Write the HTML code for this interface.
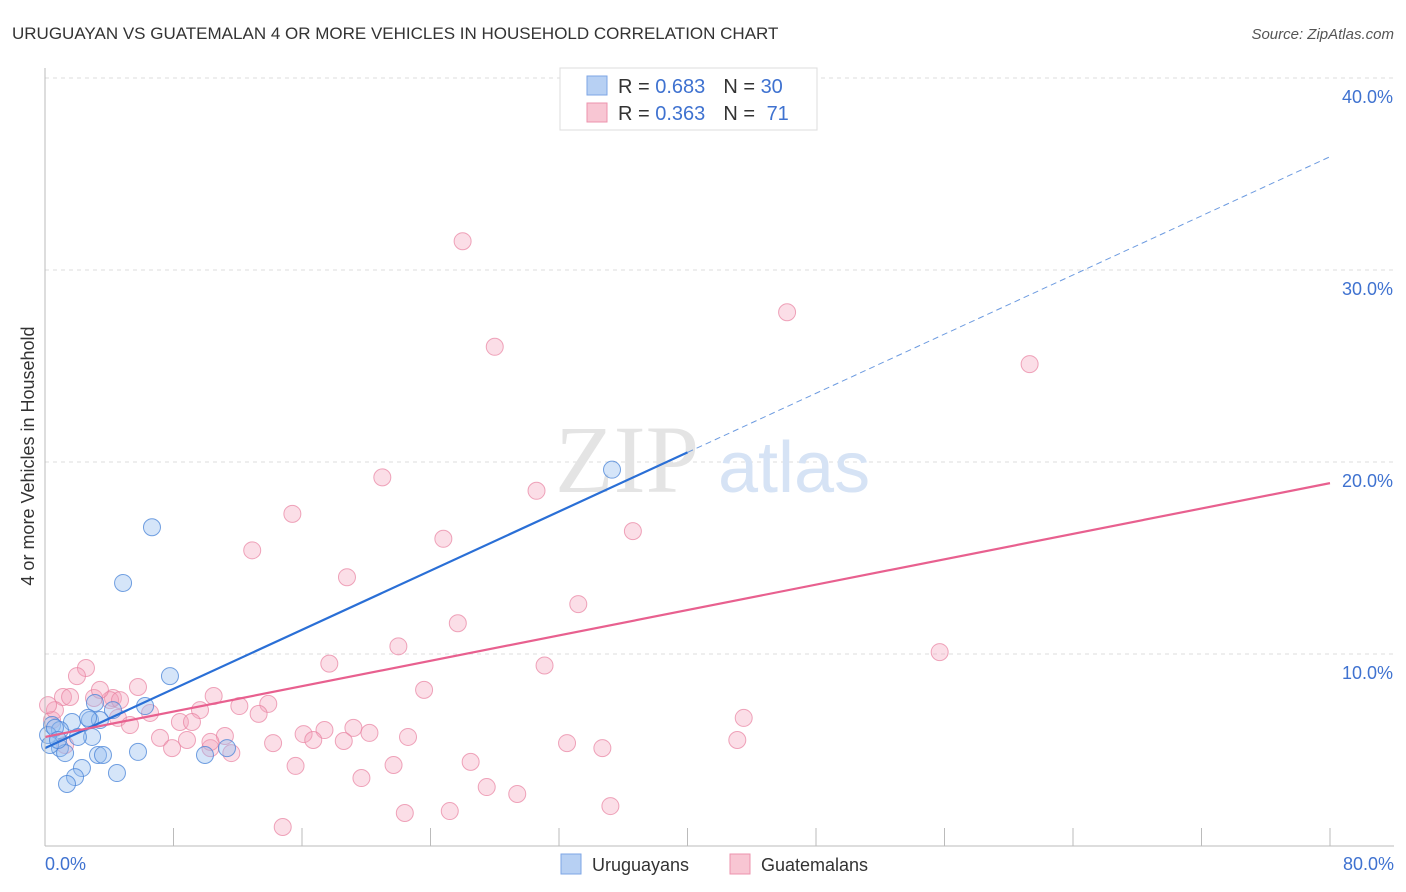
<!DOCTYPE html>
<html><head><meta charset="utf-8"><style>
body{margin:0;background:#fff;font-family:"Liberation Sans",sans-serif}
svg{display:block}
</style></head><body>
<svg id="c" width="1406" height="892" xmlns="http://www.w3.org/2000/svg">
<text x="12" y="39" font-size="17" fill="#333">URUGUAYAN VS GUATEMALAN 4 OR MORE VEHICLES IN HOUSEHOLD CORRELATION CHART</text>
<text x="1394" y="39" font-size="15" fill="#555" font-style="italic" text-anchor="end">Source: ZipAtlas.com</text>
<text x="0" y="0" transform="translate(34,456) rotate(-90)" font-size="18" fill="#333" text-anchor="middle">4 or more Vehicles in Household</text>
<g id="grid"></g>
<text x="555" y="492" font-size="96" font-family="Liberation Serif,serif" fill="#e4e4e4">ZIP</text>
<text x="718" y="492" font-size="72" fill="#d6e3f5">atlas</text>
<g id="pts"></g>
<g id="lines"></g>
<line x1="45" y1="68" x2="45" y2="846" stroke="#bbb"/>
<line x1="45" y1="846" x2="1394" y2="846" stroke="#bbb"/>
<text x="45" y="870" font-size="18" fill="#3f72d0">0.0%</text>
<text x="1394" y="870" font-size="18" fill="#3f72d0" text-anchor="end">80.0%</text>
<g>
<rect x="560" y="68" width="257" height="62" fill="#fff" stroke="#ddd"/>
<rect x="587" y="76" width="20" height="19" fill="#b7d0f3" stroke="#7ea6e6"/>
<rect x="587" y="103" width="20" height="19" fill="#f8c6d3" stroke="#ec93ae"/>
<text x="618" y="93" font-size="20" fill="#333">R = <tspan fill="#3f72d0">0.683</tspan><tspan dx="18">N = </tspan><tspan fill="#3f72d0">30</tspan></text>
<text x="618" y="120" font-size="20" fill="#333">R = <tspan fill="#3f72d0">0.363</tspan><tspan dx="18">N = </tspan><tspan fill="#3f72d0" dx="6">71</tspan></text>
</g>
<g>
<rect x="561" y="854" width="20" height="20" fill="#b7d0f3" stroke="#7ea6e6"/>
<text x="592" y="871" font-size="18" fill="#333">Uruguayans</text>
<rect x="730" y="854" width="20" height="20" fill="#f8c6d3" stroke="#ec93ae"/>
<text x="761" y="871" font-size="18" fill="#333">Guatemalans</text>
</g>
</svg>
<script>
const yTicks=[10,20,30,40];
const yTickLabels=["10.0%","20.0%","30.0%","40.0%"];
const xTicks=[0,8,16,24,32,40,48,56,64,72,80];
const blueX=[35.3,6.66,4.86,7.78,6.23,3.11,4.23,2.80,3.42,1.68,0.44,0.93,0.19,2.93,2.05,0.93,1.25,3.30,3.61,5.79,9.96,11.33,2.30,1.87,4.48,1.37,0.62,0.31,2.68,0.81];
const blueY=[19.6,16.6,13.7,8.85,7.29,7.45,7.08,6.56,6.56,6.46,6.30,6.04,5.78,5.68,5.68,5.10,4.84,4.74,4.74,4.90,4.74,5.10,4.06,3.59,3.80,3.23,6.15,5.26,6.67,5.52];
const pinkX=[26.0,28.0,46.2,61.3,21.0,30.6,15.4,36.6,24.8,12.9,18.8,33.2,25.7,22.0,55.7,17.7,31.1,2.55,1.99,23.6,5.79,1.12,1.56,4.23,3.05,10.5,13.9,12.1,6.54,9.65,43.5,13.3,4.54,8.40,5.29,9.15,17.4,19.2,20.2,16.1,11.2,7.16,22.6,8.84,16.7,18.6,14.2,32.5,34.7,43.1,10.3,11.6,7.91,26.5,15.6,21.7,19.7,27.5,29.4,35.2,22.4,25.2,14.8,0.44,0.62,0.19,4.05,1.25,10.3,4.67,3.42];
const pinkY=[31.5,26.0,27.8,25.1,19.2,18.5,17.3,16.4,16.0,15.4,14.0,12.6,11.6,10.4,10.1,9.5,9.4,9.27,8.85,8.13,8.28,7.76,7.76,7.71,7.71,7.81,7.40,7.29,6.93,7.08,6.67,6.88,6.67,6.46,6.30,6.46,6.04,6.15,5.89,5.83,5.73,5.63,5.68,5.52,5.52,5.47,5.36,5.36,5.10,5.52,5.10,4.84,5.10,4.38,4.17,4.22,3.54,3.07,2.71,2.08,1.72,1.82,0.99,6.56,7.08,7.34,7.60,5.26,5.42,7.60,8.13];
const blueTrend=[[0,5.1],[40,20.5],[80,35.9]];
const pinkTrend=[[0,5.68],[80,18.9]];
const X=v=>45+v/80*1285, Y=v=>846-v*19.2;
const NS="http://www.w3.org/2000/svg";
function mk(tag,attrs,parent){const e=document.createElementNS(NS,tag);for(const k in attrs)e.setAttribute(k,attrs[k]);parent.appendChild(e);return e;}
const grid=document.getElementById('grid');
yTicks.forEach((t,i)=>{
 const l=mk('line',{x1:45,x2:1394,y1:Y(t),y2:Y(t),stroke:'#ddd','stroke-dasharray':'4,4'},grid);
 
 
 const tx=mk('text',{x:1393,y:Y(t)+25,'font-size':18,fill:'#3f72d0','text-anchor':'end'},grid);
 tx.textContent=yTickLabels[i];
 
 
});
xTicks.forEach(t=>{
 const l=mk('line',{x1:X(t),x2:X(t),y1:828,y2:846,stroke:'#bbb'},grid);
 
 
});
const pts=document.getElementById('pts');
pinkX.forEach((v,i)=>{
 const c=mk('circle',{cx:X(v),cy:Y(pinkY[i]),r:8.5,fill:'rgba(244,160,186,0.35)',stroke:'rgba(232,128,160,0.7)','stroke-width':1},pts);
 
 
});
blueX.forEach((v,i)=>{
 const c=mk('circle',{cx:X(v),cy:Y(blueY[i]),r:8.5,fill:'rgba(150,190,240,0.4)',stroke:'rgba(70,130,215,0.75)','stroke-width':1},pts);
 
 
});
const lines=document.getElementById('lines');
let b1=mk('line',{x1:X(blueTrend[0][0]),y1:Y(blueTrend[0][1]),x2:X(blueTrend[1][0]),y2:Y(blueTrend[1][1]),stroke:'#2a6fd6','stroke-width':2.2},lines);


let b2=mk('line',{x1:X(blueTrend[1][0]),y1:Y(blueTrend[1][1]),x2:X(blueTrend[2][0]),y2:Y(blueTrend[2][1]),stroke:'#6d9be0','stroke-width':1,'stroke-dasharray':'6,4'},lines);


let p1=mk('line',{x1:X(pinkTrend[0][0]),y1:Y(pinkTrend[0][1]),x2:X(pinkTrend[1][0]),y2:Y(pinkTrend[1][1]),stroke:'#e8608f','stroke-width':2.2},lines);


</script>
</body></html>
